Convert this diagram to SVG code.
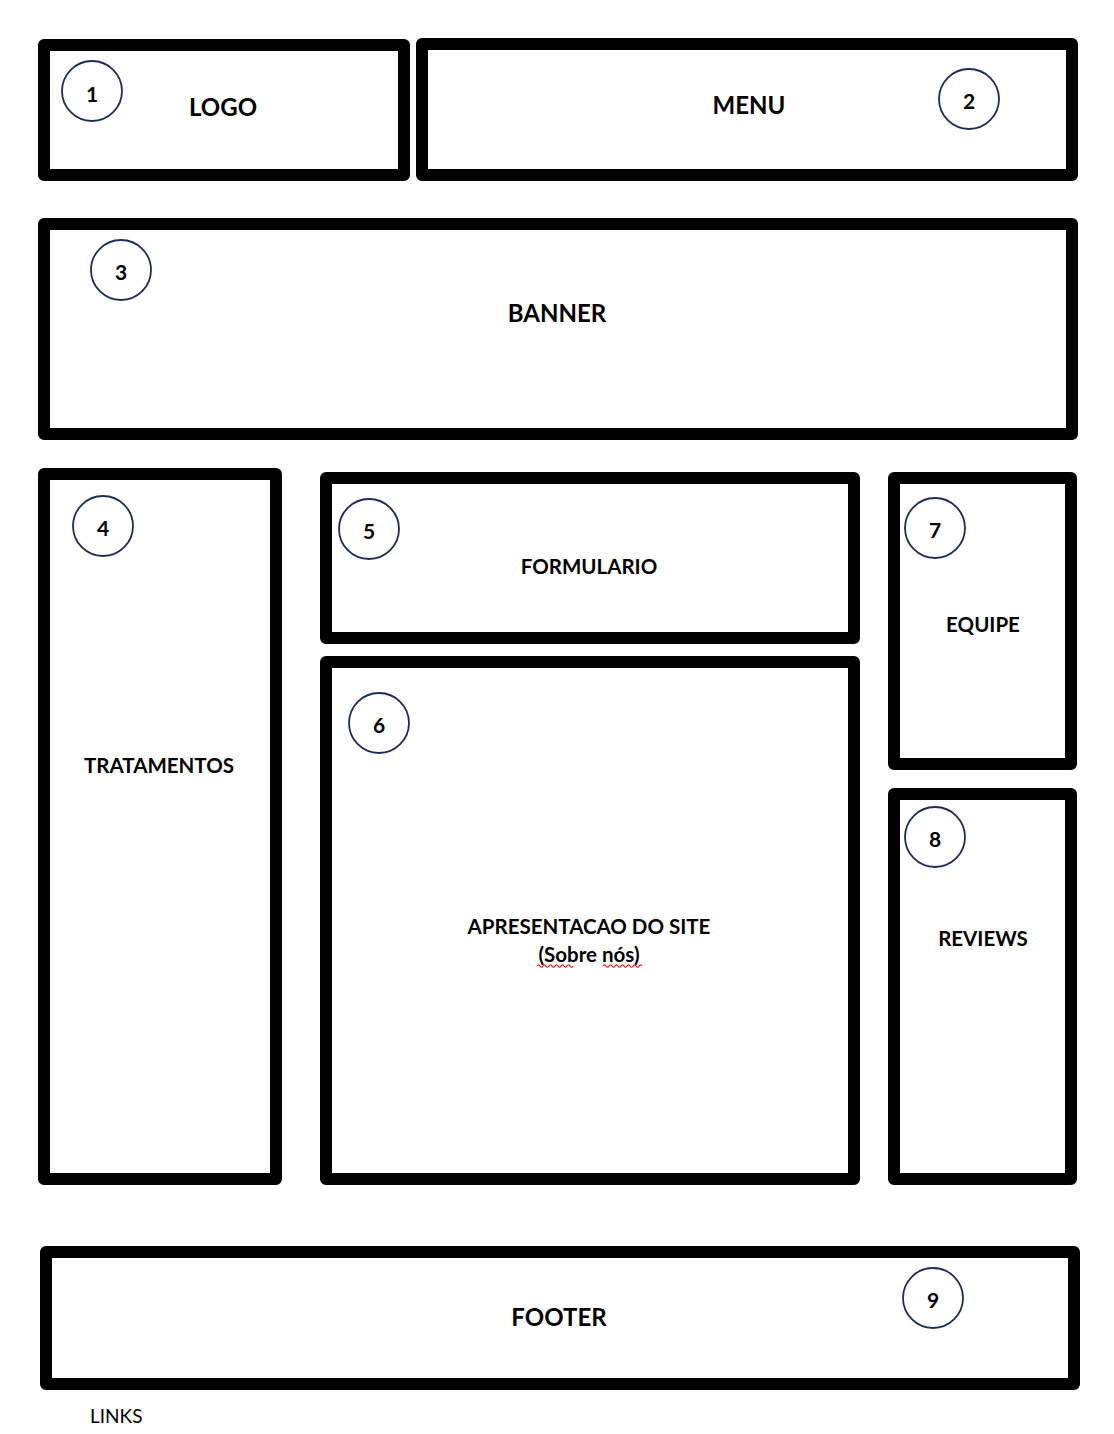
<svg xmlns="http://www.w3.org/2000/svg" width="1114" height="1434" viewBox="0 0 1114 1434">
<style>
.box{fill:#fff;stroke:#000;stroke-width:12;stroke-linejoin:round}
.num{fill:#fff;stroke:#1f2d52;stroke-width:1.8}
.nt{font-family:Lato,"Liberation Sans",sans-serif;font-weight:bold;font-size:21px;text-anchor:middle;fill:#000}
.big{font-family:Lato,"Liberation Sans",sans-serif;font-weight:bold;font-size:24px;text-anchor:middle;fill:#000}
.mid{font-family:Lato,"Liberation Sans",sans-serif;font-weight:bold;font-size:20.5px;text-anchor:middle;fill:#000}
.plain{font-family:Lato,"Liberation Sans",sans-serif;font-size:19px;fill:#000}
.squig{fill:none;stroke:#e0201c;stroke-width:1.3}
</style>
<rect width="1114" height="1434" fill="#fff"/>
<g id="connectors"/>
<g id="logo">
<rect class="box" x="44" y="45" width="360" height="130"/>
<circle class="num" cx="92" cy="91" r="30"/>
<text class="nt" x="92" y="102">1</text>
<text class="big" x="223" y="116">LOGO</text>
</g>
<g id="menu">
<rect class="box" x="422" y="44" width="650" height="131"/>
<circle class="num" cx="969" cy="99" r="30"/>
<text class="nt" x="969" y="109">2</text>
<text class="big" x="749" y="114">MENU</text>
</g>
<g id="banner">
<rect class="box" x="44" y="224" width="1028" height="210"/>
<circle class="num" cx="121" cy="270" r="30"/>
<text class="nt" x="121" y="280">3</text>
<text class="big" x="557" y="322">BANNER</text>
</g>
<g id="tratamentos">
<rect class="box" x="44" y="474" width="232" height="705"/>
<circle class="num" cx="103" cy="526" r="30"/>
<text class="nt" x="103" y="536">4</text>
<text class="mid" x="159" y="773">TRATAMENTOS</text>
</g>
<g id="formulario">
<rect class="box" x="326" y="478" width="528" height="160"/>
<circle class="num" cx="369" cy="529" r="30"/>
<text class="nt" x="369" y="539">5</text>
<text class="mid" x="589" y="574">FORMULARIO</text>
</g>
<g id="apresentacao">
<rect class="box" x="326" y="662" width="528" height="517"/>
<circle class="num" cx="379" cy="723" r="30"/>
<text class="nt" x="379" y="733">6</text>
<text class="mid" x="589" y="934">APRESENTACAO DO SITE</text>
<text class="mid" x="589" y="962">(Sobre nós)</text>
<path class="squig" d="M537 966 q1.5 -2.4 3 0 t3 0 t3 0 t3 0 t3 0 t3 0 t3 0 t3 0 t3 0 t3 0 t3 0 t3 0"/>
<path class="squig" d="M603 966 q1.5 -2.4 3 0 t3 0 t3 0 t3 0 t3 0 t3 0 t3 0 t3 0 t3 0 t3 0 t3 0 t3 0 t3 0"/>
</g>
<g id="equipe">
<rect class="box" x="894" y="478" width="177" height="286"/>
<circle class="num" cx="935" cy="528" r="30"/>
<text class="nt" x="935" y="538">7</text>
<text class="mid" x="983" y="632">EQUIPE</text>
</g>
<g id="reviews">
<rect class="box" x="894" y="794" width="177" height="385"/>
<circle class="num" cx="935" cy="837" r="30"/>
<text class="nt" x="935" y="847">8</text>
<text class="mid" x="983" y="946">REVIEWS</text>
</g>
<g id="footer">
<rect class="box" x="46" y="1252" width="1028" height="132"/>
<circle class="num" cx="933" cy="1298" r="30"/>
<text class="nt" x="933" y="1308">9</text>
<text class="big" x="559" y="1326">FOOTER</text>
</g>
<g id="links">
<text class="plain" x="90" y="1423">LINKS</text>
</g>
</svg>
